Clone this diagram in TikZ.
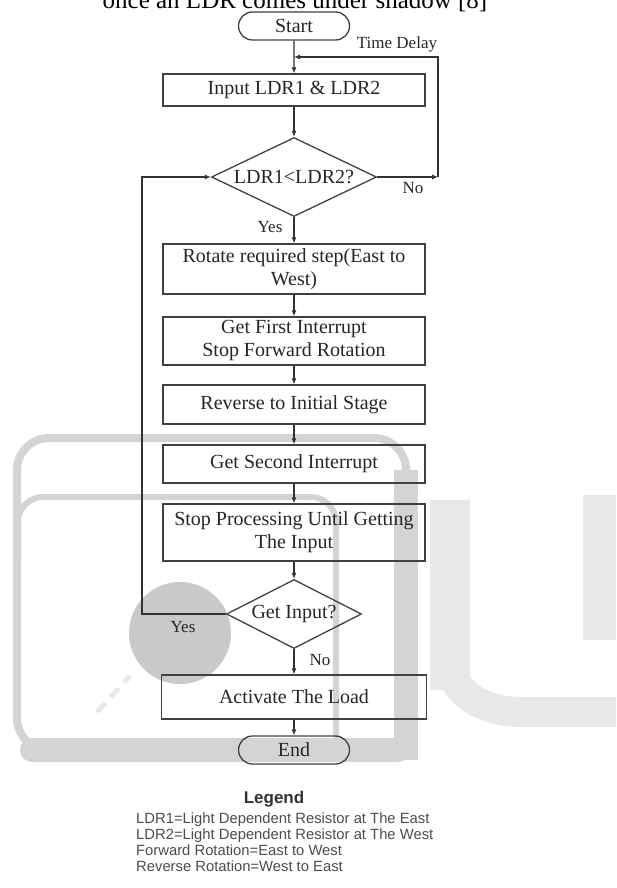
\documentclass[tikz,border=0pt]{standalone}
\usepackage{fontspec}
\setmainfont{Liberation Serif}
\newfontfamily\legendfont{Liberation Sans}
\usetikzlibrary{arrows.meta,shapes.geometric,shapes.misc,positioning}

\begin{document}
\begin{tikzpicture}[x=1pt,y=-1pt,
    wm/.style={black!17},
    wmlight/.style={black!9},
    flowline/.style={draw=black!80, line width=1.1pt},
    arr/.style={flowline, -{Latex[length=6pt,width=5pt]}},
    procbox/.style={rectangle, draw=black!75, line width=1.3pt, minimum width=262pt, align=center, inner sep=0pt, text=black!85, font=\fontsize{20}{23}\selectfont},
    decbox/.style={diamond, draw=black!75, line width=1.3pt, aspect=2, inner sep=0pt, text=black!85, font=\fontsize{20}{23}\selectfont},
    termbox/.style={rounded rectangle, draw=black!75, line width=1.3pt, minimum width=111pt, minimum height=28pt, inner sep=0pt, text=black!85, font=\fontsize{20}{23}\selectfont},
    flowlabel/.style={inner sep=0pt, text=black!85, font=\fontsize{17}{20}\selectfont},
    legendline/.style={inner sep=0pt, text=black!70, font=\legendfont\fontsize{14.8}{16}\selectfont}]
        \useasboundingbox (0,0) rectangle (616,888);
        \clip (0,0) rectangle (616,888);

        % the watermark behind the chart
        \draw[wm, line width=8pt, rounded corners=32pt] (17,438) rectangle (406,750);
        \fill[wm] (394,470) rectangle (418,760);
        \fill[wm, rounded corners=12pt] (20,738) rectangle (410,762);
        \draw[wm, line width=6pt, rounded corners=25pt] (18,560) -- (18,497) -- (336,497) -- (336,745);
        \fill[black!21] (180,633) circle (51pt);
        \draw[wmlight, line width=5pt, dash pattern=on 12pt off 8pt] (97,712) -- (130,676);
        \fill[wmlight] (430,500) rectangle (470,690);
        \draw[wmlight, line width=30pt] (450,660) to[out=-90,in=180] (520,712) -- (616,712);
        \fill[wmlight] (583,495) rectangle (616,640);

        % caption line cut by the top edge
        \node[anchor=base, inner sep=0pt, font=\fontsize{25}{28}\selectfont] (caption) at (295,8.5) {once an LDR comes under shadow [8]};

        % the steps
        \node[termbox] (start) at (294,26) {Start};
        \node[procbox, minimum height=32pt] (input) at (294,90) {Input LDR1 \& LDR2};
        \node[decbox, minimum width=165pt, minimum height=79pt] (cmp) at (294,177) {LDR1<LDR2?};
        \node[procbox, minimum height=50pt] (rotate) at (294,269) {Rotate required step(East to\\West)};
        \node[procbox, minimum height=48pt] (first) at (294,341) {Get First Interrupt\\Stop Forward Rotation};
        \node[procbox, minimum height=39pt] (reverse) at (294,404.5) {Reverse to Initial Stage};
        \node[procbox, minimum height=38pt] (second) at (294,464) {Get Second Interrupt};
        \node[procbox, minimum height=57pt] (wait) at (294,532.5) {Stop Processing Until Getting\\The Input};
        \node[decbox, minimum width=135pt, minimum height=69pt] (getin) at (294,614) {Get Input?};
        \node[procbox, minimum width=265pt, minimum height=44pt] (load) at (294,697) {Activate The Load};
        \node[termbox] (stop) at (294,750) {End};

        % main flow
        \draw[arr] (start) -- (input);
        \draw[arr] (input) -- (cmp);
        \draw[arr] (cmp) -- (rotate);
        \draw[arr] (rotate) -- (first);
        \draw[arr] (first) -- (reverse);
        \draw[arr] (reverse) -- (second);
        \draw[arr] (second) -- (wait);
        \draw[arr] (wait) -- (getin);
        \draw[arr] (getin) -- (load);
        \draw[arr] (load) -- (stop);

        % loop back for No (time delay)
        \coordinate (delayjoin) at (294,57);
        \coordinate (nocorner) at (438,177);
        \draw[arr] (cmp.east) -- (nocorner);
        \draw[arr] (nocorner) |- (delayjoin);

        % loop back for Yes
        \coordinate (yescorner) at (142,614);
        \draw[arr] (getin.west) -- (yescorner) |- (cmp.west);

        % labels on the lines
        \node[flowlabel] (delaylbl) at (397,44) {Time Delay};
        \node[flowlabel] (nolbl) at (413,188) {No};
        \node[flowlabel] (yeslbl) at (270,227) {Yes};
        \node[flowlabel] (yesbacklbl) at (183,627) {Yes};
        \node[flowlabel] (noloadlbl) at (320,660) {No};

        % legend
        \node[inner sep=0pt, text=black!80, font=\legendfont\bfseries\fontsize{17}{20}\selectfont] (legend) at (274,799) {Legend};
        \foreach \txt [count=\i] in {LDR1=Light Dependent Resistor at The East, LDR2=Light Dependent Resistor at The West, Forward Rotation=East to West, Reverse Rotation=West to East}
            \node[legendline, anchor=base west] (leg\i) at (136,807+16*\i) {\txt};

\end{tikzpicture}
\end{document}
